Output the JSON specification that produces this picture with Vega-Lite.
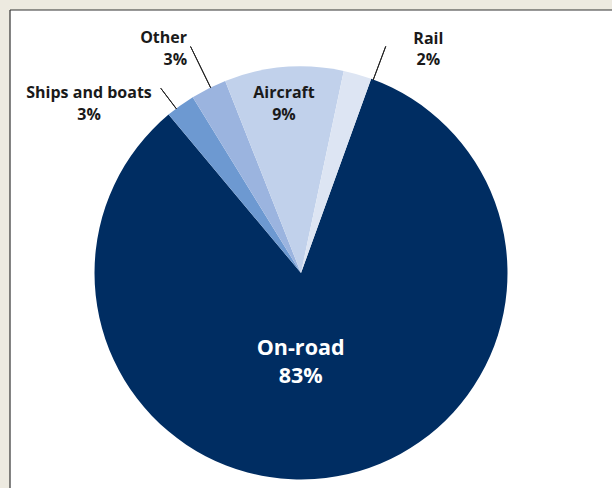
{
  "$schema": "https://vega.github.io/schema/vega-lite/v6.json",
  "width": 602,
  "height": 478,
  "autosize": "none",
  "padding": {"left": 10, "top": 10, "right": 0, "bottom": 0},
  "background": "#EDEAE0",
  "config": {
    "view": {"stroke": null},
    "text": {"font": "Open Sans", "fontWeight": "bold"}
  },
  "layer": [
    {
      "data": {"values": [{}]},
      "mark": {"type": "rect", "fill": "white", "stroke": "#333333", "strokeWidth": 1.2, "strokeDash": [602, 1080, 478, 0]},
      "encoding": {}
    },
    {
      "data": {
        "values": [
          {"mode": "On-road", "share": 83.4, "pct": "83%", "order": 1},
          {"mode": "Ships and boats", "share": 2.3, "pct": "3%", "order": 2},
          {"mode": "Other", "share": 2.8, "pct": "3%", "order": 3},
          {"mode": "Aircraft", "share": 9.3, "pct": "9%", "order": 4},
          {"mode": "Rail", "share": 2.2, "pct": "2%", "order": 5}
        ]
      },
      "encoding": {
        "theta": {"field": "share", "type": "quantitative", "stack": true, "scale": {"type": "linear", "domain": [0, 100], "range": [0.3468, 6.62999]}},
        "order": {"field": "order", "type": "quantitative"}
      },
      "layer": [
        {
          "mark": {"type": "arc", "outerRadius": 206.5, "x": {"expr": "width/2 - 10"}, "y": {"expr": "height/2 + 24"}},
          "encoding": {
            "color": {"field": "mode", "type": "nominal", "legend": null,
              "scale": {"domain": ["On-road", "Ships and boats", "Other", "Aircraft", "Rail"],
                        "range": ["#002D62", "#6D99D1", "#9BB4DF", "#C1D1EB", "#DDE5F3"]}}
          }
        },
        {
          "mark": {"type": "arc", "innerRadius": 206, "outerRadius": 232, "padAngle": 3, "thetaOffset": -0.0253, "theta2Offset": -0.0253, "fillOpacity": 0, "strokeWidth": 1, "x": {"expr": "width/2 - 10"}, "y": {"expr": "height/2 + 24"}},
          "encoding": {"stroke": {"condition": {"test": "datum.mode === 'Ships and boats'", "value": "#222222"}, "value": "transparent"}}
        },
        {
          "mark": {"type": "arc", "innerRadius": 206, "outerRadius": 252, "padAngle": 3, "thetaOffset": 0.01, "theta2Offset": 0.01, "fillOpacity": 0, "strokeWidth": 1, "x": {"expr": "width/2 - 10"}, "y": {"expr": "height/2 + 24"}},
          "encoding": {"stroke": {"condition": {"test": "datum.mode === 'Other'", "value": "#222222"}, "value": "transparent"}}
        },
        {
          "mark": {"type": "arc", "innerRadius": 206, "outerRadius": 242, "padAngle": 3, "thetaOffset": 0.0801, "theta2Offset": 0.0801, "fillOpacity": 0, "strokeWidth": 1, "x": {"expr": "width/2 - 10"}, "y": {"expr": "height/2 + 24"}},
          "encoding": {"stroke": {"condition": {"test": "datum.mode === 'Rail'", "value": "#222222"}, "value": "transparent"}}
        },
        {
          "mark": {"type": "text", "radius": 267.9, "thetaOffset": -0.2889, "dy": -10.85, "fontSize": 16, "fill": "#1a1a1a", "align": "center", "baseline": "alphabetic", "x": {"expr": "width/2 - 10"}, "y": {"expr": "height/2 + 24"}},
          "encoding": {"text": {"condition": {"test": "datum.mode === 'Ships and boats'", "field": "mode"}, "value": ""}}
        },
        {
          "mark": {"type": "text", "radius": 267.9, "thetaOffset": -0.2889, "dy": 10.85, "fontSize": 16, "fill": "#1a1a1a", "align": "center", "baseline": "alphabetic", "x": {"expr": "width/2 - 10"}, "y": {"expr": "height/2 + 24"}},
          "encoding": {"text": {"condition": {"test": "datum.mode === 'Ships and boats'", "field": "pct"}, "value": ""}}
        },
        {
          "mark": {"type": "text", "radius": 246.8, "thetaOffset": -0.0162, "dy": -10.85, "fontSize": 16, "fill": "#1a1a1a", "align": "right", "baseline": "alphabetic", "x": {"expr": "width/2 - 10"}, "y": {"expr": "height/2 + 24"}},
          "encoding": {"text": {"condition": {"test": "datum.mode === 'Other'", "field": "mode"}, "value": ""}}
        },
        {
          "mark": {"type": "text", "radius": 246.8, "thetaOffset": -0.0162, "dy": 10.85, "fontSize": 16, "fill": "#1a1a1a", "align": "right", "baseline": "alphabetic", "x": {"expr": "width/2 - 10"}, "y": {"expr": "height/2 + 24"}},
          "encoding": {"text": {"condition": {"test": "datum.mode === 'Other'", "field": "pct"}, "value": ""}}
        },
        {
          "mark": {"type": "text", "radius": 164.7, "thetaOffset": -0.0199, "dy": -10.85, "fontSize": 16, "fill": "#1a1a1a", "align": "center", "baseline": "alphabetic", "x": {"expr": "width/2 - 10"}, "y": {"expr": "height/2 + 24"}},
          "encoding": {"text": {"condition": {"test": "datum.mode === 'Aircraft'", "field": "mode"}, "value": ""}}
        },
        {
          "mark": {"type": "text", "radius": 164.7, "thetaOffset": -0.0199, "dy": 10.85, "fontSize": 16, "fill": "#1a1a1a", "align": "center", "baseline": "alphabetic", "x": {"expr": "width/2 - 10"}, "y": {"expr": "height/2 + 24"}},
          "encoding": {"text": {"condition": {"test": "datum.mode === 'Aircraft'", "field": "pct"}, "value": ""}}
        },
        {
          "mark": {"type": "text", "radius": 252.9, "thetaOffset": 0.2499, "dy": -10.5, "fontSize": 16, "fill": "#1a1a1a", "align": "center", "baseline": "alphabetic", "x": {"expr": "width/2 - 10"}, "y": {"expr": "height/2 + 24"}},
          "encoding": {"text": {"condition": {"test": "datum.mode === 'Rail'", "field": "mode"}, "value": ""}}
        },
        {
          "mark": {"type": "text", "radius": 252.9, "thetaOffset": 0.2499, "dy": 10.5, "fontSize": 16, "fill": "#1a1a1a", "align": "center", "baseline": "alphabetic", "x": {"expr": "width/2 - 10"}, "y": {"expr": "height/2 + 24"}},
          "encoding": {"text": {"condition": {"test": "datum.mode === 'Rail'", "field": "pct"}, "value": ""}}
        },
        {
          "mark": {"type": "text", "radius": 96.2, "thetaOffset": 0.1787, "dy": -14.15, "fontSize": 21.5, "fill": "white", "align": "center", "baseline": "alphabetic", "x": {"expr": "width/2 - 10"}, "y": {"expr": "height/2 + 24"}},
          "encoding": {"text": {"condition": {"test": "datum.mode === 'On-road'", "field": "mode"}, "value": ""}}
        },
        {
          "mark": {"type": "text", "radius": 96.2, "thetaOffset": 0.1787, "dy": 14.15, "fontSize": 21.5, "fill": "white", "align": "center", "baseline": "alphabetic", "x": {"expr": "width/2 - 10"}, "y": {"expr": "height/2 + 24"}},
          "encoding": {"text": {"condition": {"test": "datum.mode === 'On-road'", "field": "pct"}, "value": ""}}
        }
      ]
    }
  ]
}
